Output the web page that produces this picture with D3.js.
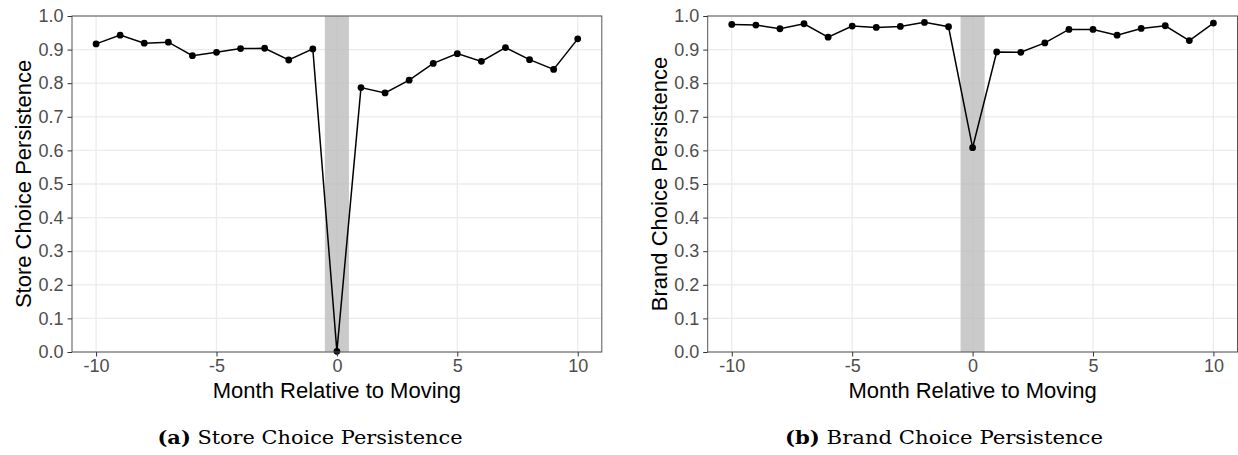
<!DOCTYPE html>
<html>
<head>
<meta charset="utf-8">
<script src="https://cdn.jsdelivr.net/npm/d3@7"></script>
<style>
  body { margin: 0; background: #fff; }
  svg { display: block; }
</style>
</head>
<body>
<div id="chart"></div>
<script>
// data
var months = [-10, -9, -8, -7, -6, -5, -4, -3, -2, -1, 0, 1, 2, 3, 4, 5, 6, 7, 8, 9, 10];
var storePersistence = [0.917, 0.943, 0.919, 0.922, 0.882, 0.892, 0.903, 0.904, 0.869, 0.902, 0.002,
  0.787, 0.771, 0.809, 0.859, 0.888, 0.865, 0.906, 0.870, 0.841, 0.932];
var brandPersistence = [0.975, 0.973, 0.962, 0.977, 0.937, 0.970, 0.966, 0.969, 0.981, 0.968, 0.608,
  0.893, 0.892, 0.920, 0.960, 0.960, 0.943, 0.963, 0.971, 0.927, 0.979];
var xTicks = [-10, -5, 0, 5, 10];
var yTicks = [0, 0.1, 0.2, 0.3, 0.4, 0.5, 0.6, 0.7, 0.8, 0.9, 1.0];
var panels = [
  {label: "(a)", caption: "Store Choice Persistence", ytitle: "Store Choice Persistence", values: storePersistence},
  {label: "(b)", caption: "Brand Choice Persistence", ytitle: "Brand Choice Persistence", values: brandPersistence}
];

var W = 1238, H = 455;
var svg = d3.select("#chart").append("svg")
  .attr("width", W)
  .attr("height", H);

var plotLefts = [72, 707.7];
var plotW = 529.8, plotTop = 16, plotBottom = 352;
var sans = "'Liberation Sans', Arial, sans-serif";

panels.forEach(function(p, i) {
  var left = plotLefts[i];
  var x = d3.scaleLinear().domain([-11, 11]).range([left, left + plotW]);
  var y = d3.scaleLinear().domain([0, 1]).range([plotBottom, plotTop]);
  var g = svg.append("g");

  // grid
  g.selectAll(".hgrid").data(yTicks).enter().append("line")
    .attr("x1", left).attr("x2", left + plotW)
    .attr("y1", function(d) { return y(d); })
    .attr("y2", function(d) { return y(d); })
    .attr("stroke", "#ebebeb").attr("stroke-width", 1.3);
  g.selectAll(".vgrid").data(xTicks).enter().append("line")
    .attr("y1", plotTop).attr("y2", plotBottom)
    .attr("x1", function(d) { return x(d); })
    .attr("x2", function(d) { return x(d); })
    .attr("stroke", "#ebebeb").attr("stroke-width", 1.3);

  // shaded moving month
  g.append("rect")
    .attr("x", x(-0.5)).attr("width", x(0.5) - x(-0.5))
    .attr("y", plotTop).attr("height", plotBottom - plotTop)
    .attr("fill", "#bdbdbd").attr("opacity", 0.8);

  // line + points
  var pts = months.map(function(m, k) { return {m: m, v: p.values[k]}; });
  g.append("path").datum(pts)
    .attr("fill", "none").attr("stroke", "#000").attr("stroke-width", 1.5)
    .attr("d", d3.line().x(function(d) { return x(d.m); }).y(function(d) { return y(d.v); }));
  g.selectAll(".pt").data(pts).enter().append("circle")
    .attr("cx", function(d) { return x(d.m); })
    .attr("cy", function(d) { return y(d.v); })
    .attr("r", 3.4).attr("fill", "#000");

  // panel border
  g.append("rect")
    .attr("x", left).attr("y", plotTop)
    .attr("width", plotW).attr("height", plotBottom - plotTop)
    .attr("fill", "none").attr("stroke", "#555").attr("stroke-width", 1);

  // axes
  var ax = g.append("g")
    .attr("transform", "translate(0," + plotBottom + ")")
    .call(d3.axisBottom(x).tickValues(xTicks).tickSize(4.5).tickPadding(3).tickFormat(d3.format("d")));
  var ay = g.append("g")
    .attr("transform", "translate(" + left + ",0)")
    .call(d3.axisLeft(y).tickValues(yTicks).tickSize(4.5).tickPadding(4).tickFormat(d3.format(".1f")));
  [ax, ay].forEach(function(a) {
    a.select(".domain").remove();
    a.selectAll(".tick line").attr("stroke", "#333");
    a.selectAll(".tick text")
      .attr("fill", "#4d4d4d")
      .style("font-family", sans)
      .style("font-size", "18px");
  });
  ax.selectAll(".tick text").attr("dy", "0.72em");
  ax.selectAll(".tick text").text(function(d) { return d < 0 ? "-" + Math.abs(d) : d; });

  // axis titles
  g.append("text")
    .attr("x", x(0)).attr("y", 398)
    .attr("text-anchor", "middle")
    .style("font-family", sans)
    .style("font-size", "22px")
    .attr("fill", "#000")
    .text("Month Relative to Moving");
  g.append("text")
    .attr("transform", "translate(" + (left - 41) + "," + ((plotTop + plotBottom) / 2) + ") rotate(-90)")
    .attr("text-anchor", "middle")
    .style("font-family", sans)
    .style("font-size", "22px")
    .attr("fill", "#000")
    .text(p.ytitle);

  // caption
  var cap = g.append("text")
    .attr("x", i === 0 ? 310 : 944).attr("y", 444)
    .attr("text-anchor", "middle")
    .style("font-family", "'DejaVu Serif', 'Liberation Serif', serif")
    .style("font-size", "19px")
    .attr("fill", "#000");
  cap.append("tspan").attr("font-weight", "bold").text(p.label);
  cap.append("tspan").text(" " + p.caption);
  cap.attr("textLength", i === 0 ? 305 : 318).attr("lengthAdjust", "spacingAndGlyphs");
});
</script>
</body>
</html>
